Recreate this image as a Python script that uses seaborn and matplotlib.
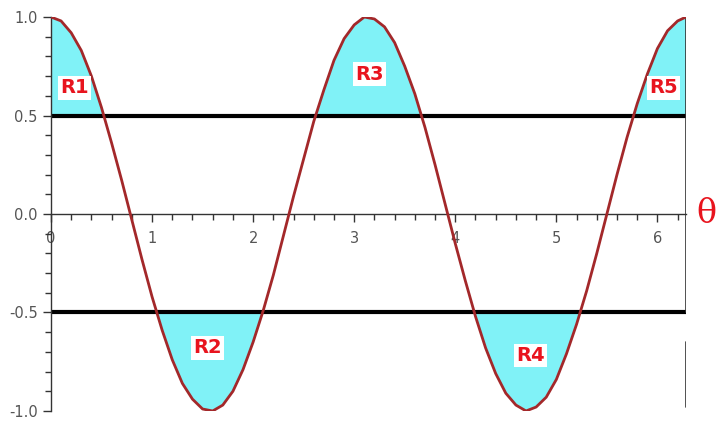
import matplotlib
matplotlib.use("Agg")
import matplotlib.pyplot as plt
from matplotlib.ticker import MultipleLocator
import numpy as np
import pandas as pd
import seaborn as sns

# curve values (theta, y)
theta = [0.0, 0.1, 0.2, 0.3, 0.4, 0.5, 0.6, 0.7, 0.8, 0.9,
         1.0, 1.1, 1.2, 1.3, 1.4, 1.5, 1.6, 1.7, 1.8, 1.9,
         2.0, 2.1, 2.2, 2.3, 2.4, 2.5, 2.6, 2.7, 2.8, 2.9,
         3.0, 3.1, 3.2, 3.3, 3.4, 3.5, 3.6, 3.7, 3.8, 3.9,
         4.0, 4.1, 4.2, 4.3, 4.4, 4.5, 4.6, 4.7, 4.8, 4.9,
         5.0, 5.1, 5.2, 5.3, 5.4, 5.5, 5.6, 5.7, 5.8, 5.9,
         6.0, 6.1, 6.2, 6.283]
y_val = [1.00, 0.98, 0.92, 0.83, 0.70, 0.54, 0.36, 0.17, -0.03, -0.23,
         -0.42, -0.59, -0.74, -0.86, -0.94, -0.99, -1.00, -0.97, -0.90, -0.79,
         -0.65, -0.49, -0.31, -0.11, 0.09, 0.28, 0.47, 0.63, 0.78, 0.89,
         0.96, 1.00, 0.99, 0.95, 0.87, 0.75, 0.61, 0.44, 0.25, 0.05,
         -0.15, -0.34, -0.52, -0.68, -0.81, -0.91, -0.97, -1.00, -0.98, -0.93,
         -0.84, -0.71, -0.56, -0.39, -0.20, 0.00, 0.20, 0.39, 0.56, 0.71,
         0.84, 0.93, 0.98, 1.00]

levels = [0.5, -0.5]
region_labels = ["R1", "R2", "R3", "R4", "R5"]
label_x = [0.23, 1.55, 3.15, 4.74, 6.06]
label_y = [0.64, -0.68, 0.71, -0.72, 0.64]

df = pd.DataFrame({"theta": theta, "y": y_val})

sns.set_style("white")
fig = plt.figure(figsize=(7.17, 4.21), dpi=100)
ax = fig.add_axes([0.0711, 0.0238, 0.8857, 0.9358])

x = np.array(theta)
y = np.array(y_val)
ax.fill_between(x, y, levels[0], where=y >= levels[0], interpolate=True,
                color="#80f2f7", lw=0, zorder=1)
ax.fill_between(x, y, levels[1], where=y <= levels[1], interpolate=True,
                color="#80f2f7", lw=0, zorder=1)

for lv in levels:
    ax.plot([x[0], x[-1]], [lv, lv], color="black", lw=3, zorder=2,
            solid_capstyle="butt")

sns.lineplot(data=df, x="theta", y="y", ax=ax, color="#a3282a", lw=2.0,
             zorder=3, sort=False)

# right border line
ax.plot([x[-1], x[-1]], [-0.5, 1.0], color="#333333", lw=1.2, zorder=2)
ax.plot([x[-1], x[-1]], [-0.65, -0.98], color="#333333", lw=1.2, zorder=2)

for t, lx, ly in zip(region_labels, label_x, label_y):
    ax.text(lx, ly, t, color="#e8141e", fontsize=14, fontweight="bold",
            ha="center", va="center", zorder=4,
            bbox=dict(facecolor="white", edgecolor="none", pad=1.5))

ax.text(6.39, 0.0, "\u03b8", color="#e8141e", fontsize=24,
        family="DejaVu Serif", ha="left", va="center", clip_on=False)

ax.set_xlim(0, x[-1])
ax.set_ylim(-1.0, 1.0)
ax.set_xlabel("")
ax.set_ylabel("")

ax.spines["left"].set_position(("data", 0))
ax.spines["bottom"].set_position(("data", 0))
ax.spines["top"].set_visible(False)
ax.spines["right"].set_visible(False)
for s in ["left", "bottom"]:
    ax.spines[s].set_color("#333333")
    ax.spines[s].set_linewidth(1.0)

ax.xaxis.set_major_locator(MultipleLocator(1))
ax.xaxis.set_minor_locator(MultipleLocator(0.2))
ax.yaxis.set_minor_locator(MultipleLocator(0.1))
ax.set_yticks([-1.0, -0.5, 0.0, 0.5, 1.0])
ax.set_yticklabels(["-1.0", "-0.5", "0.0", "0.5", "1.0"])
ax.tick_params(which="major", direction="out", length=6, width=1,
               color="#333333", labelcolor="#555555", labelsize=10.5,
               bottom=True, left=True)
ax.tick_params(which="minor", direction="out", length=4, width=1,
               color="#333333", bottom=True, left=True)
ax.tick_params(axis="x", which="major", pad=6)

fig.savefig("out.png", dpi=100)
